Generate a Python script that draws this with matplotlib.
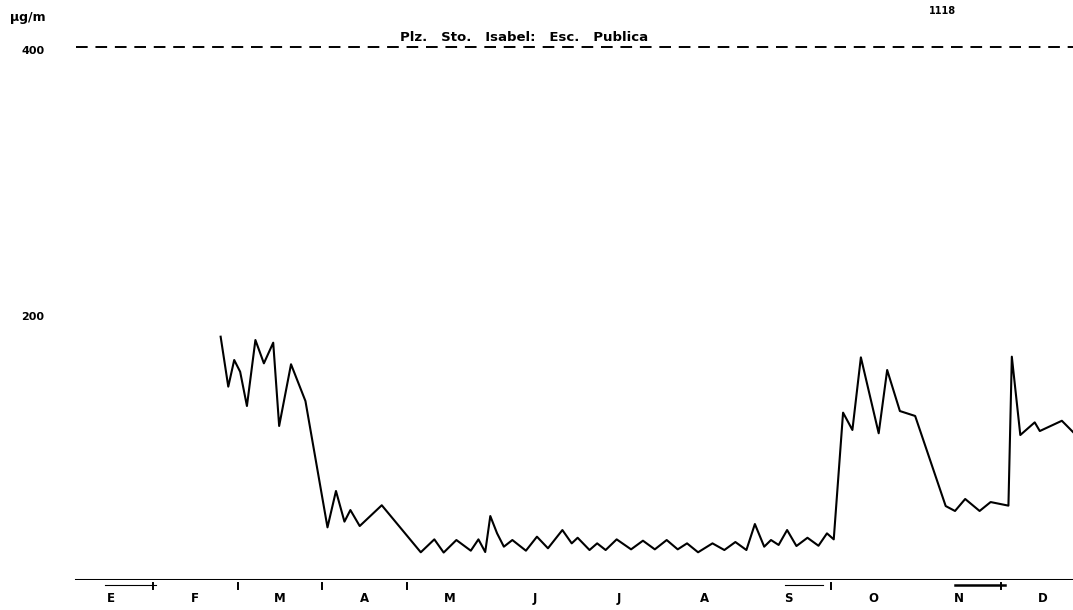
import matplotlib.pyplot as plt

# time in months from 1 Jan, concentration in ug/m3
months = ["E", "F", "M", "A", "M", "J", "J", "A", "S", "O", "N", "D"]
t = [1.80, 1.89, 1.96, 2.03, 2.11, 2.21, 2.31, 2.42, 2.49, 2.63, 2.80,
     3.06, 3.16, 3.26, 3.33, 3.44, 3.70, 4.16, 4.32, 4.43, 4.58, 4.75,
     4.84, 4.92, 4.98, 5.06, 5.14, 5.24, 5.40, 5.53, 5.66, 5.83, 5.94,
     6.01, 6.15, 6.24, 6.34, 6.47, 6.64, 6.78, 6.92, 7.06, 7.19, 7.30,
     7.43, 7.60, 7.74, 7.87, 8.00, 8.10, 8.21, 8.29, 8.38, 8.48, 8.59,
     8.72, 8.85, 8.95, 9.03, 9.14, 9.25, 9.35, 9.56, 9.66, 9.81, 9.99,
     10.35, 10.46, 10.58, 10.75, 10.88, 11.09, 11.13, 11.23, 11.40,
     11.46, 11.72, 11.86]
conc = [182.6, 145.1, 165.1, 156.3, 130.6, 180.1, 162.6, 178.1, 115.6,
        161.9, 134.3, 39.5, 66.8, 43.8, 52.5, 40.5, 56.1, 20.8, 30.5, 20.6,
        30.0, 22.0, 30.5, 21.0, 48.0, 35.0, 25.0, 30.0, 22.0, 32.5, 23.8,
        37.5, 27.5, 31.7, 22.5, 27.5, 22.5, 30.5, 23.0, 29.5, 23.0, 30.0,
        23.0, 27.5, 20.8, 27.5, 22.5, 28.5, 22.5, 42.0, 25.0, 30.0, 26.3,
        37.5, 25.5, 31.7, 25.7, 35.0, 30.5, 125.6, 112.6, 167.1, 110.1,
        157.6, 126.8, 123.1, 55.5, 51.8, 60.8, 51.8, 58.5, 55.8, 167.6,
        108.8, 118.3, 111.8, 119.5, 110.5]
standard = 400
yticks = [200, 400]
tick_months = [1, 2, 3, 4, 9, 11]

FONT = dict(fontweight="bold", family="DejaVu Sans")


def main() -> None:
    fig = plt.figure(figsize=(10.73, 6.10), dpi=100)
    ax = fig.add_axes([68 / 1073, 30 / 610, 1005 / 1073, 580 / 610])
    ax.set_xlim(0, 1005 / 84.8)
    ax.set_ylim(0, 580 / 1.3325)
    ax.axis("off")

    ax.plot(t, conc, color="black", lw=1.5, clip_on=False)
    ax.axhline(standard, xmin=0.008, color="black", lw=1.4,
               dashes=(6, 4))
    ax.axhline(0, xmin=0.008, color="black", lw=2.2)

    ax.text(5.38, standard + 2, "Plz.   Sto.   Isabel:   Esc.   Publica",
            ha="center", va="bottom", fontsize=9.5, **FONT)
    fig.text(942 / 1073, 1 - 11 / 610, "1118", ha="center", va="center",
             fontsize=7, **FONT)
    fig.text(10 / 1073, 1 - 17 / 610, "µg/m", ha="left", va="center",
             fontsize=9, **FONT)
    for v in yticks:
        ax.text(-0.55, v - 3, str(v), ha="left", va="center", fontsize=8,
                clip_on=False, **FONT)

    for i, m in enumerate(months):
        ax.text(i + 0.5, -14, m, ha="center", va="center", fontsize=8.5,
                clip_on=False, **FONT)
    for b in tick_months:
        ax.plot([b, b], [-2, -7], color="black", lw=1.4, clip_on=False)
    ax.plot([0.44, 1.04], [-4, -4], color="black", lw=0.8, clip_on=False)
    ax.plot([8.45, 8.9], [-4, -4], color="black", lw=0.8, clip_on=False)
    ax.plot([10.46, 11.05], [-4, -4], color="black", lw=1.8, clip_on=False)

    fig.savefig("out.png", dpi=100)


if __name__ == "__main__":
    main()
